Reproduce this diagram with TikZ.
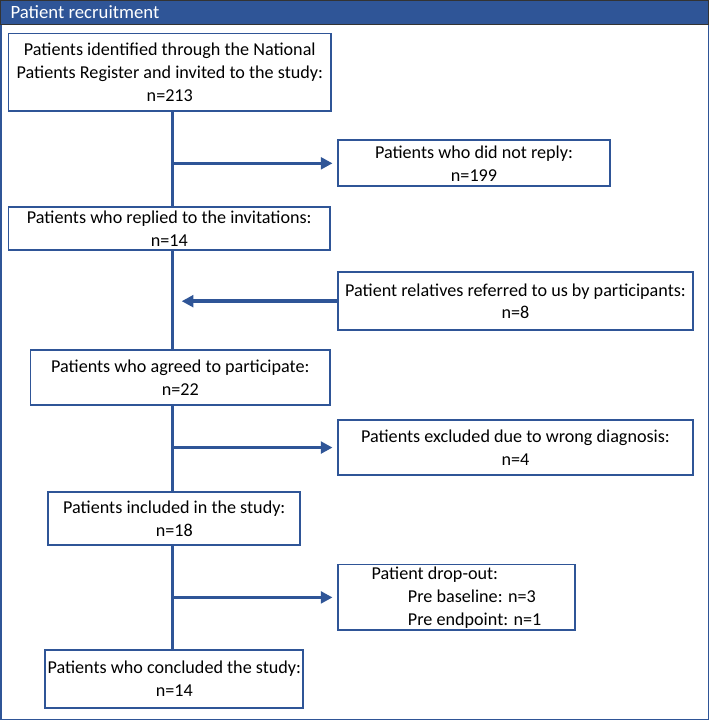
\documentclass[tikz,border=0pt]{standalone}
\usepackage{fontspec}
\setmainfont{Carlito}
\usetikzlibrary{arrows.meta}
\definecolor{recblue}{HTML}{2F5597}
\tikzset{
  >={Triangle[length=10pt,width=10pt]},
  stepbox/.style={draw=recblue, line width=1.6pt, fill=white, align=center,
                  inner sep=2pt, font=\fontsize{15.5}{19.5}\selectfont},
  flow/.style={draw=recblue, line width=3pt}
}
\begin{document}
\begin{tikzpicture}[x=0.03cm,y=-0.03cm]
  % Frame and header.
  \fill[white] (0,0) rectangle (709,720);
  \draw[recblue, line width=1.2pt] (0.5,0.5) rectangle (708.5,719.5);
  \fill[recblue] (0,0) rectangle (709,24);
  \draw[black!80, line width=0.8pt] (0,0) rectangle (709,24);
  \node[anchor=west, text=white, font=\fontsize{16}{19}\selectfont] (title) at (6,12) {Patient recruitment};

  % Boxes along the main line.
  \node[stepbox, minimum width=323*0.03cm, minimum height=78*0.03cm] (ident) at (169.5,72)
    {Patients identified through the National\\Patients Register and invited to the study:\\n=213};
  \node[stepbox, minimum width=322*0.03cm, minimum height=43*0.03cm] (replied) at (169,228.5)
    {Patients who replied to the invitations:\\n=14};
  \node[stepbox, minimum width=300*0.03cm, minimum height=55*0.03cm] (agreed) at (180,377.5)
    {Patients who agreed to participate:\\n=22};
  \node[stepbox, minimum width=252*0.03cm, minimum height=53*0.03cm] (included) at (174,518.5)
    {Patients included in the study:\\n=18};
  \node[stepbox, minimum width=252*0.03cm, minimum height=58*0.03cm] (concluded) at (174,679)
    {Patients who concluded the study:\\n=14};

  % Side boxes.
  \node[stepbox, minimum width=272*0.03cm, minimum height=46*0.03cm] (noreply) at (474,163)
    {Patients who did not reply:\\n=199};
  \node[stepbox, minimum width=355*0.03cm, minimum height=58*0.03cm] (relatives) at (515.5,301)
    {Patient relatives referred to us by participants:\\n=8};
  \node[stepbox, minimum width=355*0.03cm, minimum height=55*0.03cm] (excluded) at (515.5,447.5)
    {Patients excluded due to wrong diagnosis:\\n=4};
  \node[stepbox, minimum width=237*0.03cm, minimum height=65*0.03cm, align=left] (dropout) at (456.5,597.5)
    {Patient drop-out:\\\hspace{2em}Pre baseline: n=3\\\hspace{2em}Pre endpoint: n=1};

  % Main line, box to box.
  \coordinate (trunk) at (172,111);
  \draw[flow] (trunk) -- (trunk |- replied.north);
  \draw[flow] (trunk |- replied.south) -- (trunk |- agreed.north);
  \draw[flow] (trunk |- agreed.south) -- (trunk |- included.north);
  \draw[flow] (trunk |- included.south) -- (trunk |- concluded.north);

  % Branches.
  \draw[flow,->,shorten >=4pt] (trunk |- noreply.west) -- (noreply.west);
  \draw[flow,->,shorten >=8pt] (relatives.west) -- (trunk |- relatives.west);
  \draw[flow,->,shorten >=4pt] (trunk |- excluded.west) -- (excluded.west);
  \draw[flow,->,shorten >=4pt] (trunk |- dropout.west) -- (dropout.west);
\end{tikzpicture}
\end{document}
